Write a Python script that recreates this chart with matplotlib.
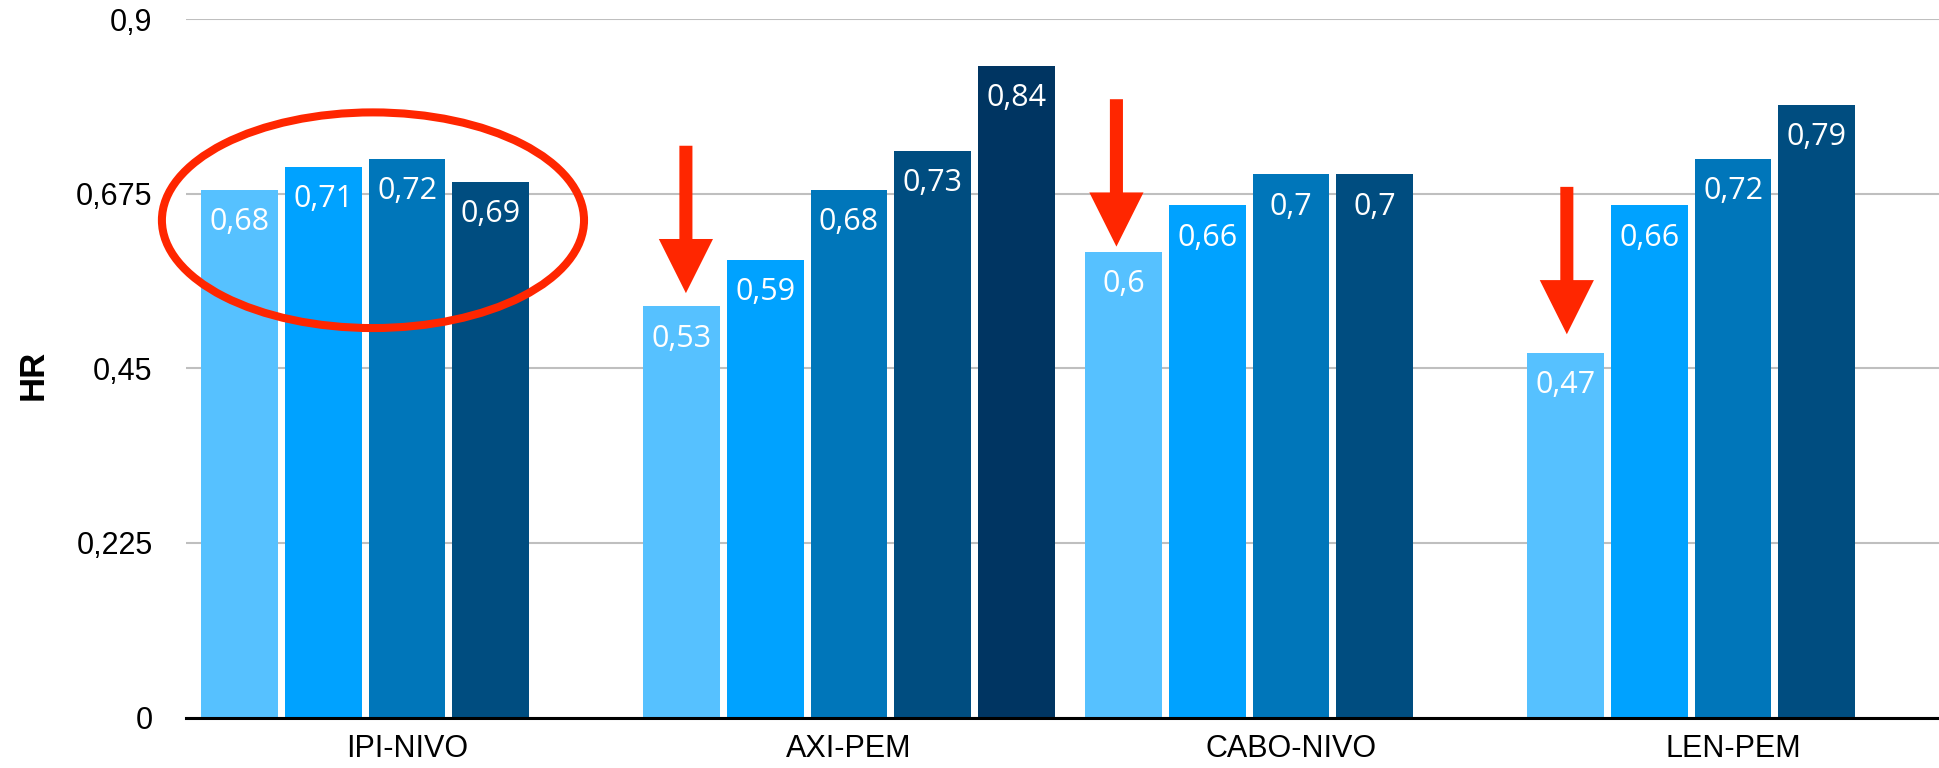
import numpy as np
import matplotlib
matplotlib.use("Agg")
import matplotlib.pyplot as plt
from matplotlib.patches import Ellipse

# HR per regime, one list per bar slot in each group
categories = ['IPI-NIVO', 'AXI-PEM', 'CABO-NIVO', 'LEN-PEM']
hr_slot1 = [0.68, 0.53, 0.60, 0.47]
hr_slot2 = [0.71, 0.59, 0.66, 0.66]
hr_slot3 = [0.72, 0.68, 0.70, 0.72]
hr_slot4 = [0.69, 0.73, 0.70, 0.79]
hr_slot5 = [np.nan, 0.84, np.nan, np.nan]
y_ticks = [0, 0.225, 0.45, 0.675, 0.9]

slot_colors = ['#56C1FF', '#00A2FF', '#0076BA', '#004D80', '#003562']
red = '#FF2600'

# down arrows: (x, tip, tail) in data units
arrows = [(0.631, 0.547, 0.737),
          (1.605, 0.607, 0.797),
          (2.624, 0.494, 0.684)]

fig = plt.figure(figsize=(19.39, 7.68), dpi=100)
ax = fig.add_axes([186 / 1939, 50.5 / 768, 1 - 186 / 1939, 698.2 / 768])

step = 0.189
width = 0.174
x = np.arange(len(categories))
series = [hr_slot1, hr_slot2, hr_slot3, hr_slot4, hr_slot5]
for j, vals in enumerate(series):
    xs = x + (j - 2) * step
    ax.bar(xs, vals, width=width, color=slot_colors[j], zorder=2)
    for xi, v in zip(xs, vals):
        if np.isnan(v):
            continue
        ax.annotate(f"{v:g}".replace('.', ','), (xi, v), xytext=(0, -29),
                    textcoords='offset points', ha='center', va='baseline',
                    color='white', fontsize=22, family='Open Sans', zorder=3)

ax.set_xlim(-0.5, 3.466)
ax.set_ylim(0, 0.9)
ax.set_xticks(x)
ax.set_xticklabels(categories, family='Liberation Sans', fontsize=22)
ax.set_yticks(y_ticks)
ax.set_yticklabels([f"{t:g}".replace('.', ',') for t in y_ticks],
                   family='Liberation Sans', fontsize=22)
ax.tick_params(axis='x', length=0, pad=12)
ax.tick_params(axis='y', length=0, pad=24)

ax.set_axisbelow(True)
ax.yaxis.grid(True, color='#BFBFBF', linewidth=1.5)
for side in ['top', 'right', 'left']:
    ax.spines[side].set_visible(False)
ax.spines['bottom'].set_linewidth(2.2)
ax.spines['bottom'].set_color('black')
ax.spines['bottom'].set_zorder(4)

fig.text(33 / 1939, 1 - 375 / 768, 'HR', rotation=90, ha='center', va='center',
         family='Liberation Sans', fontweight='bold', fontsize=25)

# highlight the IPI-NIVO group
ax.add_patch(Ellipse((-0.077, 0.641), 0.955, 0.278, fill=False,
                     edgecolor=red, linewidth=5.8, zorder=5, clip_on=False))

for ax_x, tip, tail in arrows:
    ax.annotate('', xy=(ax_x, tip), xytext=(ax_x, tail),
                arrowprops=dict(arrowstyle='simple,head_length=39,head_width=39,tail_width=9.4',
                                mutation_scale=1, color=red, shrinkA=0, shrinkB=0,
                                linewidth=0), zorder=5)

fig.savefig('out.png', dpi=100)
